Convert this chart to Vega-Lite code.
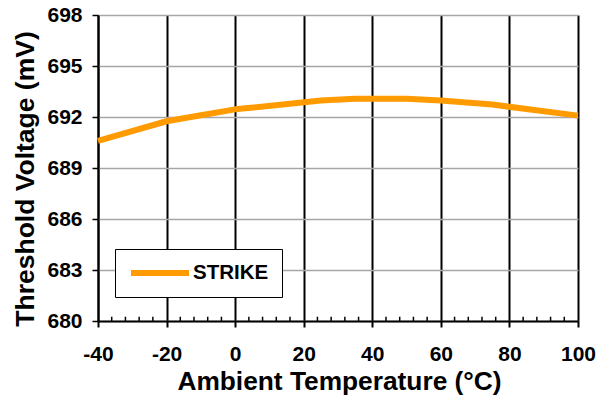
{
  "$schema": "https://vega.github.io/schema/vega-lite/v6.json",
  "width": 480,
  "height": 306,
  "autosize": "none",
  "padding": {"left": 98, "top": 15, "right": 27, "bottom": 79},
  "background": "white",
  "config": {"view": {"stroke": null}, "font": "Liberation Sans"},
  "datasets": {
    "curve": [
      {"temp": -40, "mv": 690.6, "series": "STRIKE"},
      {"temp": -20, "mv": 691.75, "series": "STRIKE"},
      {"temp": -10, "mv": 692.1, "series": "STRIKE"},
      {"temp": 0, "mv": 692.45, "series": "STRIKE"},
      {"temp": 25, "mv": 692.97, "series": "STRIKE"},
      {"temp": 35, "mv": 693.08, "series": "STRIKE"},
      {"temp": 50, "mv": 693.08, "series": "STRIKE"},
      {"temp": 60, "mv": 692.97, "series": "STRIKE"},
      {"temp": 75, "mv": 692.73, "series": "STRIKE"},
      {"temp": 100, "mv": 692.08, "series": "STRIKE"}
    ],
    "minor": [
      {"temp": -36}, {"temp": -32}, {"temp": -28}, {"temp": -24},
      {"temp": -16}, {"temp": -12}, {"temp": -8}, {"temp": -4},
      {"temp": 4}, {"temp": 8}, {"temp": 12}, {"temp": 16},
      {"temp": 24}, {"temp": 28}, {"temp": 32}, {"temp": 36},
      {"temp": 44}, {"temp": 48}, {"temp": 52}, {"temp": 56},
      {"temp": 64}, {"temp": 68}, {"temp": 72}, {"temp": 76},
      {"temp": 84}, {"temp": 88}, {"temp": 92}, {"temp": 96}
    ]
  },
  "encoding": {
    "x": {
      "field": "temp",
      "type": "quantitative",
      "scale": {"domain": [-40, 100], "nice": false, "zero": false},
      "axis": {
        "title": "Ambient Temperature (°C)",
        "values": [-40, -20, 0, 20, 40, 60, 80, 100],
        "labelExpr": "'' + datum.value",
        "grid": true,
        "gridColor": "black",
        "gridWidth": 2,
        "gridOpacity": 1,
        "domainColor": "black",
        "domainWidth": 2,
        "tickColor": "black",
        "tickWidth": 2,
        "tickSize": 6,
        "labelFont": "Liberation Sans",
        "labelFontWeight": "bold",
        "labelFontSize": 21,
        "labelColor": "black",
        "labelPadding": 16,
        "labelFlush": false,
        "labelOverlap": false,
        "titleFont": "Liberation Sans",
        "titleFontWeight": "bold",
        "titleFontSize": 26.3,
        "titleColor": "black",
        "titleX": 241,
        "titleY": 68,
        "titleBaseline": "alphabetic",
        "titleAlign": "center"
      }
    }
  },
  "layer": [
    {
      "data": {"name": "minor"},
      "mark": {"type": "rule", "color": "black", "strokeWidth": 1.5},
      "encoding": {
        "y": {
          "datum": 680,
          "type": "quantitative",
          "scale": {"domain": [680, 698], "nice": false, "zero": false},
          "axis": {
            "title": "Threshold Voltage (mV)",
            "values": [680, 683, 686, 689, 692, 695, 698],
            "grid": true,
            "gridColor": "#a6a6a6",
            "gridWidth": 1.5,
            "gridOpacity": 1,
            "domainColor": "black",
            "domainWidth": 2,
            "tickColor": "black",
            "tickWidth": 1.5,
            "tickSize": 6,
            "labelFont": "Liberation Sans",
            "labelFontWeight": "bold",
            "labelFontSize": 21,
            "labelColor": "black",
            "labelPadding": 10,
            "labelFlush": false,
            "labelOverlap": false,
            "titleFont": "Liberation Sans",
            "titleFontWeight": "bold",
            "titleFontSize": 26.5,
            "titleColor": "black",
            "titleX": -65,
            "titleY": 163.5,
            "titleBaseline": "alphabetic",
            "titleAlign": "center",
            "titleAngle": -90
          }
        },
        "y2": {"datum": 680.25}
      }
    },
    {
      "data": {"name": "curve"},
      "mark": {"type": "line", "strokeWidth": 6, "strokeCap": "butt", "strokeJoin": "round"},
      "encoding": {
        "y": {
          "field": "mv",
          "type": "quantitative",
          "scale": {"domain": [680, 698], "nice": false, "zero": false},
          "axis": {
            "title": "Threshold Voltage (mV)",
            "values": [680, 683, 686, 689, 692, 695, 698],
            "grid": true,
            "gridColor": "#a6a6a6",
            "gridWidth": 1.5,
            "gridOpacity": 1,
            "domainColor": "black",
            "domainWidth": 2,
            "tickColor": "black",
            "tickWidth": 1.5,
            "tickSize": 6,
            "labelFont": "Liberation Sans",
            "labelFontWeight": "bold",
            "labelFontSize": 21,
            "labelColor": "black",
            "labelPadding": 10,
            "labelFlush": false,
            "labelOverlap": false,
            "titleFont": "Liberation Sans",
            "titleFontWeight": "bold",
            "titleFontSize": 26.5,
            "titleColor": "black",
            "titleX": -65,
            "titleY": 163.5,
            "titleBaseline": "alphabetic",
            "titleAlign": "center",
            "titleAngle": -90
          }
        },
        "color": {
          "field": "series",
          "type": "nominal",
          "scale": {"domain": ["STRIKE"], "range": ["#FF9B00"]},
          "legend": {
            "title": null,
            "orient": "none",
            "legendX": 17,
            "legendY": 234,
            "direction": "vertical",
            "padding": 13,
            "fillColor": "white",
            "strokeColor": "black",
            "symbolType": "stroke",
            "symbolSize": 3364,
            "symbolStrokeWidth": 6,
            "clipHeight": 22,
            "labelFont": "Liberation Sans",
            "labelFontWeight": "bold",
            "labelFontSize": 20.5,
            "labelColor": "black",
            "labelOffset": 1,
            "labelLimit": 300
          }
        }
      }
    }
  ]
}
